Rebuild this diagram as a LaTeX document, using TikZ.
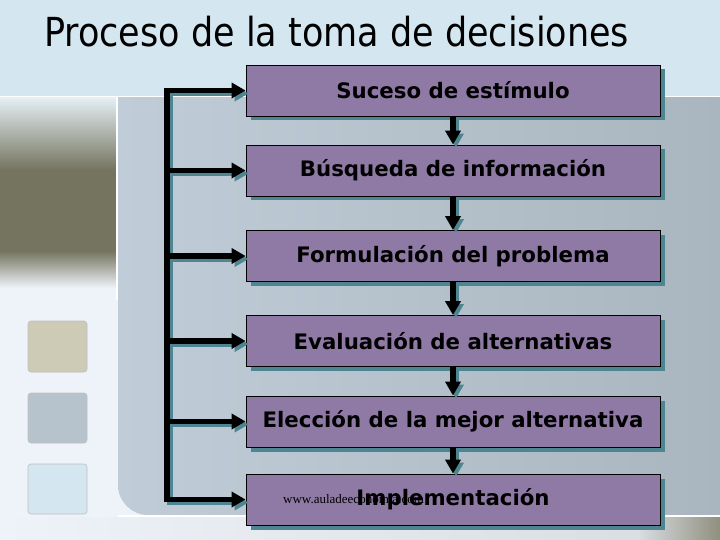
\documentclass[tikz,border=0pt]{standalone}
\usepackage{fontspec}
\usepackage{graphicx}
\usepackage{tikz}
\usetikzlibrary{arrows.meta}
\newfontfamily\boxfont{DejaVu Sans}
\newfontfamily\titlefont{DejaVu Sans}
\newfontfamily\markfont{Liberation Serif}

\definecolor{topband}{HTML}{D4E6EF}
\definecolor{paleside}{HTML}{EEF3F9}
\definecolor{panelA}{HTML}{C0CCD7}
\definecolor{panelB}{HTML}{A9B6BF}
\definecolor{stepfill}{HTML}{8F79A5}
\definecolor{stepshadow}{HTML}{4D8690}
\definecolor{darkolive}{HTML}{74745F}

\begin{document}
\begin{tikzpicture}[x=1pt,y=-1pt,
    step node/.style={rectangle,draw=black,line width=0.8pt,fill=stepfill,
      minimum width=414pt,minimum height=51pt,inner sep=0pt,
      preaction={fill=stepshadow,transform canvas={shift={(4.5pt,-4.5pt)}}},
      font=\boxfont\fontsize{21.3}{24}\selectfont\bfseries,text=black},
    arr/.style={line width=5.5pt,-{Triangle[length=14pt,width=15pt]}},
    rail/.style={line width=5.5pt,line cap=rect},
    square/.style={rounded corners=3pt,draw=black!25,line width=0.6pt}]

  % background
  \useasboundingbox (0,0) rectangle (720,540);
  \fill[topband] (0,0) rectangle (720,96);
  \fill[paleside] (0,97) rectangle (720,540);
  \fill[darkolive] (0,169) rectangle (116,252);
  \shade[top color=topband!60!white,bottom color=darkolive]
    (0,97) rectangle (116,170);
  \shade[top color=darkolive,bottom color=paleside] (0,251) rectangle (116,288);
  \shade[left color=paleside,right color=paleside!80!gray]
    (0,517) rectangle (720,540);
  \shade[left color=paleside!80!gray,right color=darkolive!80!white]
    (640,517) rectangle (720,540);
  \shade[left color=panelA,right color=panelB]
    (118,97) -- (720,97) -- (720,515) -- (148,515)
    arc[start angle=90,end angle=180,radius=30] -- cycle;
  \fill[white] (0,96) rectangle (720,97.5);
  \fill[white] (116,97) rectangle (117.5,300);
  \fill[white] (118,515) rectangle (720,517);

  % squares on the left
  \filldraw[square,fill=olive!25!gray!45] (28,321) rectangle (87,372);
  \filldraw[square,fill=panelA!95!black] (28,393) rectangle (87,443);
  \filldraw[square,fill=topband] (28,464) rectangle (87,514);

  % title
  \node[anchor=base west,inner sep=0pt] (title) at (44,47)
    {\titlefont\fontsize{40}{46}\selectfont\scalebox{0.875}[1]{Proceso de la toma de decisiones}};

  % steps
  \node[step node] (suceso) at (453,90.5) {Suceso de estímulo};
  \node[step node] (busqueda) [below of=suceso,node distance=80pt] {Búsqueda de información};
  \node[step node] (formulacion) [below of=busqueda,node distance=85.5pt] {Formulación del problema};
  \node[step node] (evaluacion) [below of=formulacion,node distance=85pt] {Evaluación de alternativas};
  \node[step node] (eleccion) [below of=evaluacion,node distance=80.5pt] {Elección de la mejor alternativa};
  \node[step node] (implementacion) [below of=eleccion,node distance=78pt] {};
  \node[anchor=base west,inner sep=0pt,font=\markfont\fontsize{13}{15}\selectfont]
    (mark) at (283,503) {www.auladeeconomia.com};
  \node[inner sep=0pt,font=\boxfont\fontsize{21.3}{24}\selectfont\bfseries,text=black]
    (impltext) at (implementacion.center) {Implementación};

  \coordinate (railtop) at (167,90.5);
  \coordinate (railbot) at (167,499);

  % shadows of the connectors
  \begin{scope}[transform canvas={shift={(3pt,-3pt)}}]
    \draw[rail,stepshadow] (railtop) -- (railbot);
    \foreach \n in {suceso,busqueda,formulacion,evaluacion,eleccion,implementacion}
      \draw[arr,stepshadow] (railtop |- \n.west) -- (\n.west);
    \path[arr,stepshadow]
      (suceso) edge (busqueda)
      (busqueda) edge (formulacion)
      (formulacion) edge (evaluacion)
      (evaluacion) edge (eleccion)
      (eleccion) edge (implementacion);
  \end{scope}

  % connectors
  \draw[rail] (railtop) -- (railbot);
  \foreach \n in {suceso,busqueda,formulacion,evaluacion,eleccion,implementacion}
    \draw[arr] (railtop |- \n.west) -- (\n.west);
  \path[arr]
    (suceso) edge (busqueda)
    (busqueda) edge (formulacion)
    (formulacion) edge (evaluacion)
    (evaluacion) edge (eleccion)
    (eleccion) edge (implementacion);

\end{tikzpicture}
\end{document}
